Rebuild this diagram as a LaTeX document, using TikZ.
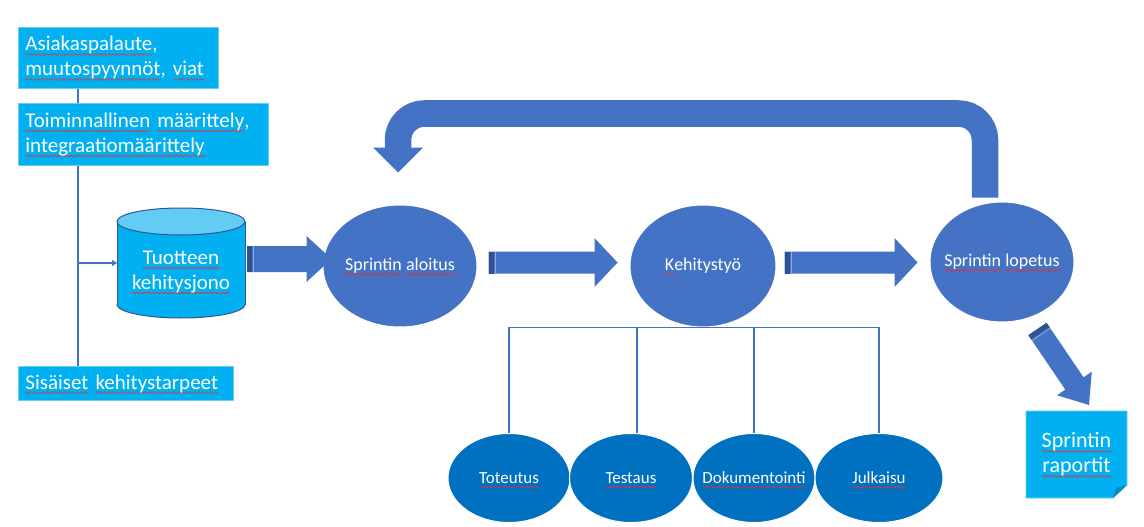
\documentclass[tikz,border=0pt]{standalone}
\usepackage{fontspec}
\setmainfont{Carlito}
\usetikzlibrary{calc,arrows.meta,shapes.geometric}

\definecolor{srcfill}{HTML}{00B0F0}
\definecolor{srcedge}{HTML}{6CCDF2}
\definecolor{cyltop}{HTML}{63CCF4}
\definecolor{cyledge}{HTML}{2F5597}
\definecolor{stageblue}{HTML}{4472C4}
\definecolor{taskblue}{HTML}{0070C0}
\definecolor{bandblue}{HTML}{2F528F}
\definecolor{foldblue}{HTML}{0A8AC0}
\definecolor{spellred}{HTML}{E8312A}

% one period of a red wavy underline, tiled under a word
\newsavebox\wavebox
\newsavebox\spelltmp
\newcommand\makewave{%
  \sbox\wavebox{\begin{pgfpicture}%
    \pgfsetcolor{spellred}\pgfsetlinewidth{0.6pt}\pgfsetroundjoin
    \pgfpathmoveto{\pgfpoint{0pt}{0pt}}%
    \pgfpathlineto{\pgfpoint{1pt}{1pt}}%
    \pgfpathlineto{\pgfpoint{3pt}{-1pt}}%
    \pgfpathlineto{\pgfpoint{4pt}{0pt}}%
    \pgfusepath{stroke}%
    \pgfresetboundingbox
    \pgfpathrectangle{\pgfpoint{0pt}{0pt}}{\pgfpoint{4pt}{0.1pt}}%
    \pgfusepath{use as bounding box}%
  \end{pgfpicture}}}
\newcommand\spellmark[1]{\leavevmode\sbox\spelltmp{#1}%
  \rlap{\raisebox{-3.5pt}[0pt][0pt]{\hbox to\wd\spelltmp{\xleaders\copy\wavebox\hfill}}}%
  \usebox\spelltmp}

% block arrow: #1 start, #2 tip, #3 shaft half width, #4 head half width, #5 head length
\newcommand\blockarrow[5]{%
  \coordinate (ba-h) at ($(#2)!#5!(#1)$);
  \coordinate (ba-b) at ($(#1)!5pt!(#2)$);
  \coordinate (ba-c) at ($(#1)!6.5pt!(#2)$);
  \fill[stageblue] ($(#1)!#3!90:(#2)$) -- ($(ba-h)!#3!90:(#2)$) -- ($(ba-h)!#4!90:(#2)$) -- (#2)
     -- ($(ba-h)!#4!-90:(#2)$) -- ($(ba-h)!#3!-90:(#2)$) -- ($(#1)!#3!-90:(#2)$) -- cycle;
  \fill[bandblue] ($(#1)!#3!90:(#2)$) -- ($(ba-b)!#3!90:(#2)$) -- ($(ba-b)!#3!-90:(#2)$) -- ($(#1)!#3!-90:(#2)$) -- cycle;
  \draw[stageblue!60!white, line width=0.8pt] ($(ba-c)!#3!90:(#2)$) -- ($(ba-c)!#3!-90:(#2)$);
}

\begin{document}
\makewave
\begin{tikzpicture}[x=1pt,y=-1pt,
  srcbox/.style={fill=srcfill, draw=srcedge, line width=0.8pt, text=white,
    font=\fontsize{21}{25}\selectfont, align=left, anchor=north west,
    inner xsep=7pt, inner ysep=0pt},
  stage/.style={ellipse, fill=stageblue, draw=white, line width=1pt, text=white,
    font=\fontsize{18}{21}\selectfont, inner xsep=-20pt, inner ysep=0pt},
  task/.style={stage, fill=taskblue, font=\fontsize{17}{20}\selectfont},
  link/.style={draw=stageblue, line width=1.2pt},
  holder/.style={rectangle, inner sep=0pt, outer sep=0pt},
  bigtext/.style={text=white, font=\fontsize{21}{25}\selectfont, align=center, inner sep=0pt},
]
\useasboundingbox (0,0) rectangle (1144,527);
\fill[white] (0,0) rectangle (1144,527);

% inputs on the left
\node[srcbox, minimum width=200pt, minimum height=61pt, text width=186pt] (b1) at (18,27)
  {\spellmark{Asiakaspalaute},\\\spellmark{muutospyynnöt}, \spellmark{viat}};
\node[srcbox, minimum width=250pt, minimum height=62pt, text width=236pt] (b2) at (18,103)
  {\spellmark{Toiminnallinen} \spellmark{määrittely},\\\spellmark{integraatiomäärittely}};
\node[srcbox, minimum width=215pt, minimum height=34pt, text width=201pt] (b3) at (18,366)
  {\spellmark{Sisäiset} \spellmark{kehitystarpeet}};

\coordinate (trunk) at (78,0);
\draw[link] (b1.south -| trunk) -- (b2.north -| trunk);
\draw[link] (b2.south -| trunk) -- (b3.north -| trunk);

% product backlog cylinder
\node[holder, minimum width=128pt, minimum height=110pt] (cyl) at (181,263) {};
\fill[srcfill] ($(cyl.north west)+(0,13.5)$) rectangle ($(cyl.south east)+(0,-13.5)$);
\fill[srcfill] ($(cyl.south)+(0,-13.5)$) ellipse [x radius=64, y radius=13.5];
\begin{scope}
  \clip ($(cyl.south west)+(-5,-13.5)$) rectangle ($(cyl.south east)+(5,8)$);
  \draw[cyledge, line width=1pt] ($(cyl.south)+(0,-13.5)$) ellipse [x radius=64, y radius=13.5];
\end{scope}
\draw[cyledge, line width=1pt] ($(cyl.north west)+(0,13.5)$) -- ($(cyl.south west)+(0,-13.5)$)
  ($(cyl.north east)+(0,13.5)$) -- ($(cyl.south east)+(0,-13.5)$);
\filldraw[fill=cyltop, draw=cyledge, line width=1pt] ($(cyl.north)+(0,13.5)$) ellipse [x radius=64, y radius=13.5];
\node[bigtext] (cyltext) at ($(cyl.center)+(0,9)$) {\spellmark{Tuotteen}\\\spellmark{kehitysjono}};

\draw[link, -{Triangle[length=5pt,width=6pt]}] (trunk |- cyl.west) -- (cyl.west);

% sprint stages
\node[stage, minimum width=154pt, minimum height=122pt] (sa) at (400,266) {\spellmark{Sprintin} \spellmark{aloitus}};
\node[stage, minimum width=146pt, minimum height=122pt] (ke) at (703,266) {\spellmark{K}ehitystyö};
\node[stage, minimum width=144pt, minimum height=120pt] (lo) at (1002,262) {\spellmark{Sprintin} \spellmark{lopetus}};

% development tasks
\node[task, minimum width=122pt, minimum height=89pt] (tot) at (509,478) {\spellmark{Toteutus}};
\node[task, minimum width=123pt, minimum height=89pt] (tes) at (631,478) {\spellmark{Testaus}};
\node[task, minimum width=122pt, minimum height=89pt] (dok) at (754,478) {\spellmark{Dokumentointi}};
\node[task, minimum width=128pt, minimum height=89pt] (jul) at (879,478) {\spellmark{Julkaisu}};

\draw[link] (tot.north) -- (tot.north |- ke.south) -- (jul.north |- ke.south) -- (jul.north);
\coordinate (tesin) at ($(tes.north)+(6,0)$);
\draw[link] (tesin) -- (tesin |- ke.south);
\draw[link] (dok.north) -- (dok.north |- ke.south);

% flow arrows
\coordinate (a1s) at ($(cyl.east)+(2,-4)$);
\coordinate (a1t) at ($(a1s -| sa.west)+(9,0)$);
\blockarrow{a1s}{a1t}{13pt}{23pt}{25pt}

\coordinate (a2s) at ($(sa.east)+(11,-3.5)$);
\coordinate (a2t) at ($(a2s -| ke.west)+(-12,0)$);
\blockarrow{a2s}{a2t}{11pt}{24.5pt}{23pt}

\coordinate (a3s) at ($(ke.east)+(8,-3.5)$);
\coordinate (a3t) at ($(a3s -| lo.west)+(-12,0)$);
\blockarrow{a3s}{a3t}{11pt}{24.5pt}{23pt}

% return loop from sprint end to sprint start
\coordinate (ur) at ($(lo.north)+(-17,-4)$);
\coordinate (ul) at ($(sa.north)+(-2,-32)$);
\coordinate (utop) at (0,113.5);
\draw[stageblue, line width=26.5pt, rounded corners=26.5pt]
  (ur) -- (ur |- utop) -- (ul |- utop) -- ($(ul)+(0,-24.5)$);
\fill[stageblue] ($(ul)+(-25,-25)$) -- (ul) -- ($(ul)+(25,-25)$) -- cycle;

% sprint reports note
\node[holder, minimum width=101pt, minimum height=87pt, anchor=north west] (rap) at (1026,411) {};
\filldraw[fill=srcfill, draw=srcedge, line width=0.8pt] (rap.north west) -- (rap.north east)
  -- ($(rap.south east)+(0,-13)$) -- ($(rap.south east)+(-14,0)$) -- (rap.south west) -- cycle;
\fill[foldblue] ($(rap.south east)+(0,-13)$) -- ($(rap.south east)+(-11,-10)$) -- ($(rap.south east)+(-14,0)$) -- cycle;
\node[bigtext, font=\fontsize{22}{25}\selectfont] (raptext) at (rap.center) {\spellmark{Sprintin}\\\spellmark{raportit}};

\coordinate (a4s) at ($(lo.center)+(35.5,67)$);
\coordinate (a4t) at ($(rap.north west)+(63,-6)$);
\blockarrow{a4s}{a4t}{11pt}{21pt}{26pt}
\end{tikzpicture}
\end{document}
